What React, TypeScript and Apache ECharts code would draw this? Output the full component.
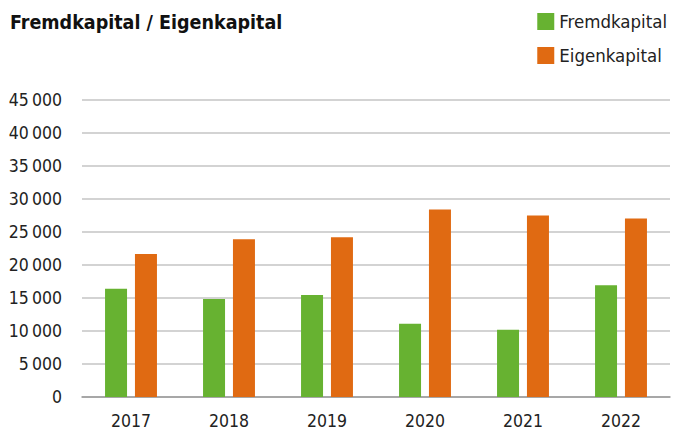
import React, { useEffect, useRef } from "react";
import * as echarts from "echarts";

const years = ["2017", "2018", "2019", "2020", "2021", "2022"];
const fremdkapital = [16400, 14850, 15450, 11100, 10200, 16950];
const eigenkapital = [21650, 23900, 24200, 28400, 27500, 27050];
const yTicks = [0, 5000, 10000, 15000, 20000, 25000, 30000, 35000, 40000, 45000];

const FONT = '"Liberation Sans Narrow", "DejaVu Sans Condensed", "Roboto", sans-serif';

function fmt(v: number): string {
  const s = String(v);
  if (s.length <= 3) return s;
  return s.slice(0, s.length - 3) + "\u2009" + s.slice(s.length - 3);
}

export default function App() {
  const ref = useRef<HTMLDivElement>(null);
  useEffect(() => {
    document.body.style.margin = "0";
    const chart = echarts.init(ref.current!, null, { renderer: "svg" });
    chart.setOption({
      animation: false,
      backgroundColor: "#ffffff",
      textStyle: { fontFamily: FONT },
      title: {
        text: "Fremdkapital / Eigenkapital",
        left: 5,
        top: 7,
        textStyle: { fontFamily: FONT, fontSize: 19.5, fontWeight: "bold", color: "#111" },
      },
      legend: {
        orient: "vertical",
        right: 1,
        top: 7,
        itemWidth: 17,
        itemHeight: 17,
        itemGap: 15,
        icon: "rect",
        textStyle: { fontFamily: FONT, fontSize: 18.5, color: "#222" },
        data: ["Fremdkapital", "Eigenkapital"],
      },
      grid: { left: 82, right: 3, top: 100, bottom: 31 },
      xAxis: {
        type: "category",
        data: years,
        axisLine: { lineStyle: { color: "#999", width: 1.5 } },
        axisTick: { show: false },
        axisLabel: { fontFamily: FONT, fontSize: 17.5, color: "#222", margin: 15 },
      },
      yAxis: {
        type: "value",
        min: yTicks[0],
        max: yTicks[yTicks.length - 1],
        interval: 5000,
        axisLine: { show: false },
        axisTick: { show: false },
        splitLine: { lineStyle: { color: "#c4c4c4", width: 1.5 } },
        axisLabel: {
          fontFamily: FONT,
          fontSize: 17.5,
          color: "#222",
          margin: 20,
          formatter: (v: number) => fmt(v),
        },
      },
      series: [
        {
          name: "Fremdkapital",
          type: "bar",
          data: fremdkapital,
          barWidth: 22,
          barGap: "36%",
          itemStyle: { color: "#67b231" },
        },
        {
          name: "Eigenkapital",
          type: "bar",
          data: eigenkapital,
          barWidth: 22,
          itemStyle: { color: "#e06a12" },
        },
      ],
    });
    return () => chart.dispose();
  }, []);
  return <div ref={ref} style={{ width: 673, height: 430 }} />;
}
